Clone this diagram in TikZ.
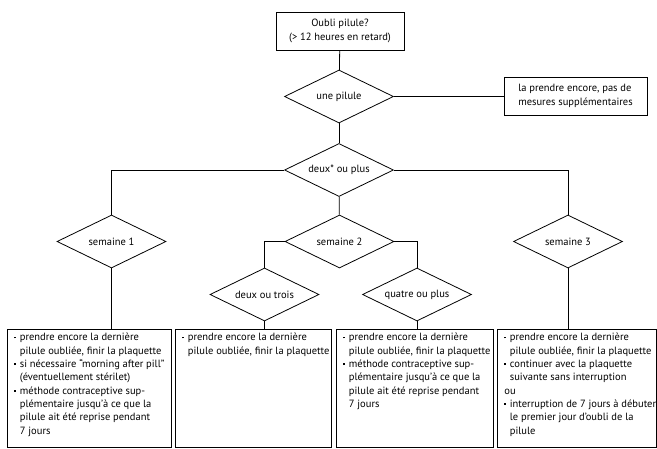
\documentclass[tikz,border=0pt]{standalone}
\usepackage{fontspec}
\setmainfont{PT Sans}
\usetikzlibrary{shapes.geometric}
\newcommand{\bdot}{\rule[2.5pt]{1.6pt}{1.6pt}}
\newcommand{\bitem}{\par\noindent\hangindent=5.5pt\hangafter=1\makebox[5.5pt][l]{\bdot}}
% fixed box width, lines are never broken by TeX
\newcommand{\advtext}[2]{\makebox[#1][l]{\begin{minipage}[t][110pt][t]{240pt}#2\end{minipage}}}

\begin{document}
\begin{tikzpicture}[x=1pt,y=-1pt,
  every node/.style={font=\fontsize{10.5}{13.3}\selectfont},
  decision/.style={draw,line width=0.8pt,shape=diamond,shape aspect=2,inner sep=0pt,minimum width=109pt,minimum height=53pt},
  question/.style={draw,line width=0.8pt,shape=rectangle,align=center,inner sep=0pt,minimum width=128pt,minimum height=38pt},
  answer/.style={draw,line width=0.8pt,shape=rectangle,align=left,inner sep=3pt,minimum width=143pt,minimum height=38pt},
  advice/.style={draw,line width=0.8pt,shape=rectangle,anchor=north west,inner xsep=7pt,inner ysep=4pt}]
\useasboundingbox (0,0) rectangle (657,448);
\node[question] (q) at (340,31) {Oubli pilule?\\(> 12 heures en retard)};
\node[decision] (d1) at (339,96.5) {une pilule};
\node[answer] (r1) at (575.5,96) {la prendre encore, pas de\\mesures supplémentaires};
\node[decision] (d2) at (339,170) {deux* ou plus};
\node[decision] (w1) at (111.5,241.5) {semaine 1};
\node[decision] (w2) at (339.5,241.5) {semaine 2};
\node[decision] (w3) at (568,241.5) {semaine 3};
\node[decision] (n23) at (264.5,294.5) {deux ou trois};
\node[decision] (n4) at (417,294.5) {quatre ou plus};
% recommandations
\node[advice] (b1) at (7,329) {\advtext{150pt}{%
  \bitem prendre encore la dernière\newline pilule oubliée, finir la plaquette
  \bitem si nécessaire “morning after pill”\newline (éventuellement stérilet)
  \bitem méthode contraceptive sup-\newline plémentaire jusqu’à ce que la\newline pilule ait été reprise pendant\newline 7 jours}};
\node[advice] (b2) at (175,329) {\advtext{142pt}{%
  \bitem prendre encore la dernière\newline pilule oubliée, finir la plaquette}};
\node[advice] (b3) at (336,329) {\advtext{143pt}{%
  \bitem prendre encore la dernière\newline pilule oubliée, finir la plaquette
  \bitem méthode contraceptive sup-\newline plémentaire jusqu’à ce que la\newline pilule ait été reprise pendant\newline 7 jours}};
\node[advice] (b4) at (497,329) {\advtext{145pt}{%
  \bitem prendre encore la dernière\newline pilule oubliée, finir la plaquette
  \bitem continuer avec la plaquette\newline suivante sans interruption
  \par\noindent ou
  \bitem interruption de 7 jours à débuter\newline le premier jour d’oubli de la\newline pilule}};
\begin{scope}[line width=0.8pt]
\draw (q) -- (d1);
\draw (d1.east) -- (d1.east -| r1.west);
\draw (d1) -- (d2);
\draw (d2) -- (w2);
\draw (d2.west) -| (w1.north);
\draw (d2.east) -| (w3.north);
\draw (w2.west) -| (n23.north);
\draw (w2.east) -| (n4.north);
\draw (w1.south) -- (w1.south |- b1.north);
\draw (n23.south) -- (n23.south |- b2.north);
\draw (n4.south) -- (n4.south |- b3.north);
\draw (w3.south) -- (w3.south |- b4.north);
\end{scope}
\end{tikzpicture}
\end{document}
